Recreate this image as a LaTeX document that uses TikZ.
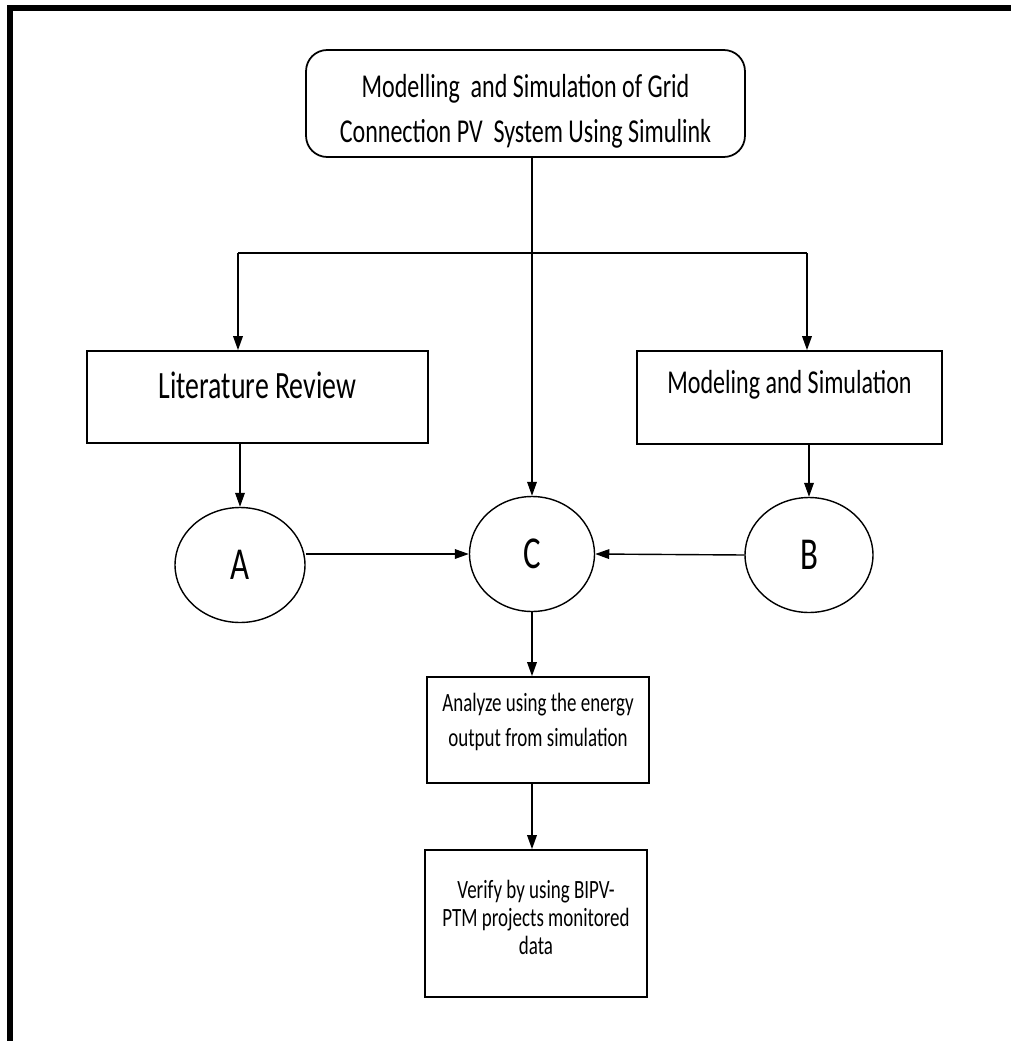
\documentclass[tikz,border=0pt]{standalone}
\usepackage{fontspec}
\setmainfont{Carlito}[FakeStretch=0.72]
\usepackage{tikz}
\usetikzlibrary{arrows.meta, shapes.geometric, calc}
\tikzset{
blk/.style={draw, line width=1pt, align=center},
circ/.style={draw, ellipse, line width=0.8pt, minimum height=2.3cm, font=\fontsize{26}{30}\selectfont},
arr/.style={line width=0.8pt, -{Triangle[length=8pt,width=5.5pt]}}
}

\begin{document}
\begin{tikzpicture}[x=0.02cm, y=-0.02cm]
\useasboundingbox (0,0) rectangle (1011,1041);
\draw[line width=3pt] (10,1041) -- (10,8) -- (1011,8);
\node[blk, rounded corners=12pt, minimum width=8.78cm, minimum height=2.14cm, font=\fontsize{19}{25.5}\selectfont] (top) at (525.5,103.5) {\rule{0pt}{22pt}Modelling~ and Simulation of Grid\\Connection PV~ System Using Simulink};
\node[blk, minimum width=6.82cm, minimum height=1.84cm, text depth=13pt, font=\fontsize{22}{26}\selectfont] (lit) at (257.5,397) {Literature Review};
\node[blk, minimum width=6.1cm, minimum height=1.86cm, text depth=18pt, font=\fontsize{19}{23}\selectfont] (model) at (789.5,397.5) {Modeling and Simulation};
\foreach \name/\x/\y/\w in {A/240/565/2.6, C/532/554/2.5, B/809/555/2.56}{
\node[circ, minimum width=\w cm] (\name) at (\x,\y){\name};
}
\node[blk, minimum width=4.44cm, minimum height=2.12cm, font=\fontsize{15}{20}\selectfont] (analyze) at (538,730) {Analyze using the energy\\output from simulation\rule[-12pt]{0pt}{0pt}};
\node[blk, minimum width=4.44cm, minimum height=2.94cm, font=\fontsize{15}{16}\selectfont] (verify) at (536,923.5) {Verify by using BIPV-\\PTM projects monitored\\data\rule[-7pt]{0pt}{0pt}};
\coordinate (split) at (532,253);
\coordinate (litin) at (238,253);
\coordinate (modin) at (807,253);
\draw[line width=0.8pt] (top.south -| split) -- (split);
\draw[line width=0.8pt] (litin) -- (modin);
\draw[arr] (litin) -- (litin |- lit.north);
\draw[arr] (modin) -- (modin |- model.north);
\draw[arr] (split) -- (C.north);
\draw[arr] (lit.south -| A) -- (A.north);
\draw[arr] (model.south -| B) -- (B.north);
\draw[arr] (A.east |- C) -- (C.west);
\draw[arr] (B.west) -- (C.east);
\draw[arr] (C.south) -- (C.south |- analyze.north);
\draw[arr] (C.south |- analyze.south) -- (C.south |- verify.north);
\end{tikzpicture}
\end{document}
